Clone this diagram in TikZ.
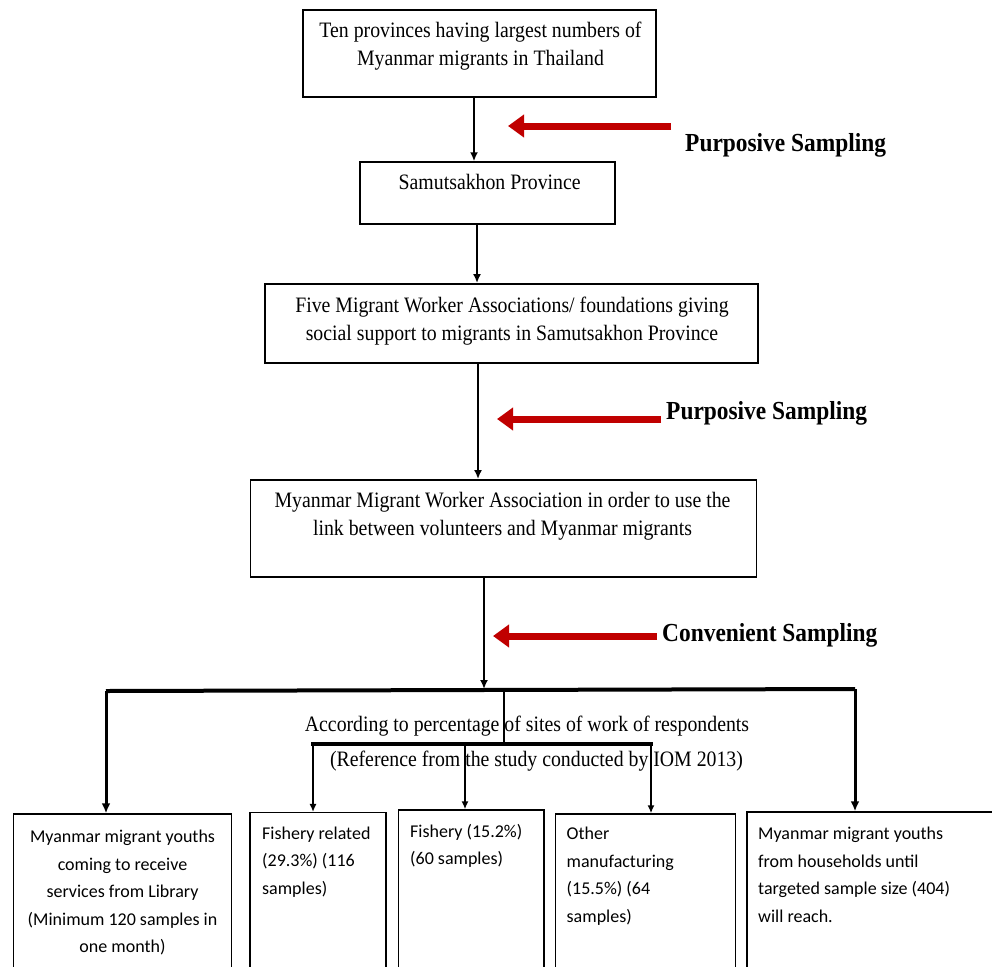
\documentclass[tikz,border=0pt]{standalone}
\usepackage{fontspec}
\setmainfont{Liberation Serif}
\newfontfamily\narrowserif[FakeStretch=0.9]{Liberation Serif}
\newfontfamily\carlito{Carlito}
\usetikzlibrary{arrows.meta}
\definecolor{arrowred}{RGB}{192,0,0}

\begin{document}
\begin{tikzpicture}[x=1pt,y=-1pt,
    box/.style={draw,line width=1.5pt,inner sep=0pt},
    uptext/.style={inner sep=0pt,align=center,font=\narrowserif\fontsize{22}{28}\selectfont},
    lowtext/.style={inner sep=0pt,align=left,font=\carlito\fontsize{18}{27.5}\selectfont},
    method/.style={inner sep=0pt,anchor=base west,font=\narrowserif\bfseries\fontsize{26}{30}\selectfont},
    arr/.style={line width=2pt,-{Latex[length=9pt,width=8pt]}},
    thinarr/.style={line width=1.5pt,-{Latex[length=8pt,width=7pt]}},
    thickarr/.style={line width=3pt,-{Latex[length=10pt,width=9pt]}},
    redarr/.style={arrowred,line width=7pt,-{Triangle[length=16pt,width=22pt]}},
    barline/.style={line width=4pt}]
        \useasboundingbox (0,0) rectangle (992,966);
        \clip (0,0) rectangle (992,966);
        % upper chain of boxes
        \node[box,minimum width=353pt,minimum height=87pt](b1)at(479.5,53.5){};
        \node[box,minimum width=255pt,minimum height=62pt](b2)at(487.5,193){};
        \node[box,minimum width=493pt,minimum height=79pt](b3)at(511.7,323.3){};
        \node[box,minimum width=506pt,minimum height=97pt](b4)at(503.5,528.3){};
        \node[uptext,anchor=north](t1)at(480.5,21.7){Ten provinces having largest numbers of\\Myanmar migrants in Thailand};
        \node[uptext,anchor=base](t2)at(489.7,189.3){Samutsakhon Province};
        \node[uptext,anchor=north](t3)at(512,296.7){Five Migrant Worker Associations/ foundations giving\\social support to migrants in Samutsakhon Province};
        \node[uptext,anchor=north](t4)at(502.5,491.7){Myanmar Migrant Worker Association in order to use the\\link between volunteers and Myanmar migrants};
        \draw[arr](474,0 |- b1.south)--(474,0 |- b2.north);
        \draw[arr](477,0 |- b2.south)--(477,0 |- b3.north);
        \draw[arr](478,0 |- b3.south)--(478,0 |- b4.north);
        % sampling methods
        \coordinate(s1)at(671,126); \coordinate(e1)at(508,126);
        \coordinate(s2)at(661,419); \coordinate(e2)at(497,419);
        \coordinate(s3)at(657,636); \coordinate(e3)at(493,636);
        \draw[redarr](s1)--(e1);
        \draw[redarr](s2)--(e2);
        \draw[redarr](s3)--(e3);
        \node[method](m1)at(685,151.7){Purposive Sampling};
        \node[method](m2)at(666,419){Purposive Sampling};
        \node[method](m3)at(662,641.7){Convenient Sampling};
        % split into sites
        \coordinate(j1)at(484,689);
        \coordinate(l1)at(106,691);
        \coordinate(r1)at(855,689);
        \coordinate(j2)at(504,690);
        \coordinate(j3)at(504,744);
        \coordinate(p1)at(313,744);
        \coordinate(p3)at(465,744);
        \coordinate(p2)at(651,744);
        \draw[arr](484,0 |- b4.south)--(j1);
        \draw[barline](l1)--(r1);
        \draw[line width=1.5pt](j2)--(j3);
        \draw[barline](311,744)--(653,744);
        \node[uptext,anchor=base](k1)at(527,731.7){According to percentage of sites of work of respondents};
        \node[uptext,anchor=base](k2)at(536.5,766){(Reference from the study conducted by IOM 2013)};
        % lower boxes
        \node[box,minimum width=218.4pt,minimum height=171pt](ba)at(122.5,899.5){};
        \node[box,minimum width=136pt,minimum height=172.3pt](bb)at(318,898.85){};
        \node[box,minimum width=145.3pt,minimum height=175pt](bc)at(471.35,897.5){};
        \node[box,minimum width=179.7pt,minimum height=171pt](bd)at(645.55,899.5){};
        \node[box,minimum width=263.2pt,minimum height=173pt](be)at(878.4,898.5){};
        \draw[thickarr](l1)--(l1 |- ba.north);
        \draw[thickarr](r1)--(r1 |- be.north);
        \draw[thinarr](p1)--(p1 |- bb.north);
        \draw[thinarr](p3)--(p3 |- bc.north);
        \draw[thinarr](p2)--(p2 |- bd.north);
        \node[lowtext,align=center,anchor=north](ta)at(122.5,830){Myanmar migrant youths\\coming to receive\\services from Library\\(Minimum 120 samples in\\one month)};
        \node[lowtext,anchor=north west](tb)at(262,826.5){Fishery related\\(29.3\%) (116\\samples)};
        \node[lowtext,anchor=north west](tc)at(410,824){Fishery (15.2\%)\\(60 samples)};
        \node[lowtext,anchor=north west](td)at(566.5,827){Other\\manufacturing\\(15.5\%) (64\\samples)};
        \node[lowtext,anchor=north west](te)at(758,827){Myanmar migrant youths\\from households until\\targeted sample size (404)\\will reach.};
    \end{tikzpicture}
\end{document}
